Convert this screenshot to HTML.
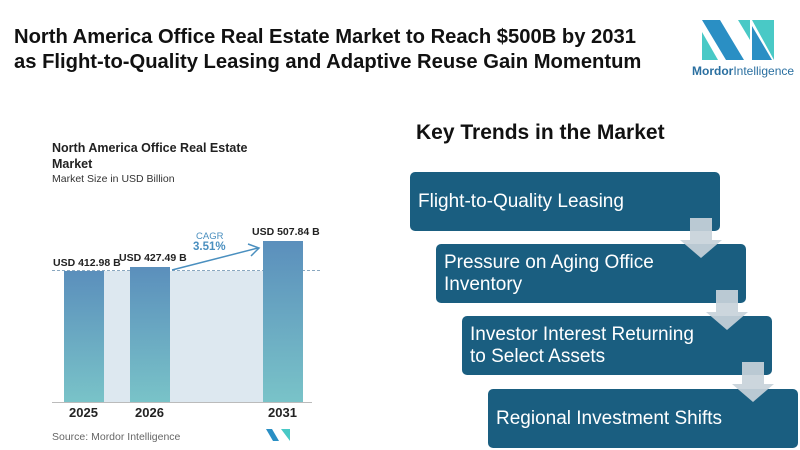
<!DOCTYPE html><html><head><style>
body{margin:0;width:800px;height:450px;background:#fff;font-family:"Liberation Sans",sans-serif;position:relative;overflow:hidden}
.a{position:absolute}
.box{position:absolute;width:310px;height:59px;background:#1a5e80;border-radius:5px;color:#fff;font-size:19px;line-height:22px;box-sizing:border-box;padding-left:8px;display:flex;align-items:center}
.lbl{position:absolute;font-size:10.5px;font-weight:bold;color:#222}
.yr{position:absolute;font-size:13px;font-weight:bold;color:#222;top:405px}
.bar{position:absolute;width:40px;bottom:48px;background:linear-gradient(#5b8fbc,#79c3c8)}
</style></head><body>
<div class="a" style="left:14px;top:25px;font-size:20.2px;font-weight:bold;color:#111;line-height:25px">North America Office Real Estate Market to Reach $500B by 2031<br>as Flight-to-Quality Leasing and Adaptive Reuse Gain Momentum</div>
<svg class="a" style="left:700px;top:18px" width="76" height="44" viewBox="0 0 76 44">
<polygon points="2,2 20,2 44,42 26,42" fill="#2a8fc4"/><polygon points="2,14 2,42 18,42" fill="#49c9c6"/>
<polygon points="38,2 50,2 50,22" fill="#49c9c6"/><polygon points="52,2 74,2 74,42" fill="#49c9c6"/><polygon points="52,8 52,42 72,42" fill="#2a8fc4"/></svg>
<div class="a" style="left:692px;top:64px;font-size:12px;color:#2a6fa0"><b>Mordor</b>Intelligence</div>
<div class="a" style="left:52px;top:140px;font-size:12.5px;font-weight:bold;color:#222;line-height:16px">North America Office Real Estate<br>Market</div>
<div class="a" style="left:52px;top:173px;font-size:10.5px;color:#333">Market Size in USD Billion</div>
<div class="a" style="left:64px;top:271px;width:239px;height:131px;background:#dde8f0"></div>
<div class="a" style="left:52px;top:270px;width:268px;border-top:1px dashed #8aa8c0"></div>
<div class="bar" style="left:64px;top:271px"></div>
<div class="bar" style="left:130px;top:267px"></div>
<div class="bar" style="left:263px;top:241px"></div>
<div class="a" style="left:52px;top:402px;width:260px;border-top:1px solid #bbb"></div>
<div class="lbl" style="left:53px;top:257px">USD 412.98 B</div>
<div class="lbl" style="left:119px;top:252px">USD 427.49 B</div>
<div class="lbl" style="left:252px;top:226px">USD 507.84 B</div>
<div class="a" style="left:196px;top:231px;font-size:9.5px;color:#4a8fbf">CAGR</div>
<div class="a" style="left:193px;top:241px;font-size:11.5px;font-weight:bold;color:#4a8fbf">3.51%</div>
<svg class="a" style="left:170px;top:240px" width="95" height="35"><line x1="2" y1="30" x2="88" y2="8" stroke="#4a8fbf" stroke-width="1.5"/><polyline points="78,4 89,8 81,16" fill="none" stroke="#4a8fbf" stroke-width="1.5"/></svg>
<div class="yr" style="left:69px">2025</div><div class="yr" style="left:135px">2026</div><div class="yr" style="left:268px">2031</div>
<div class="a" style="left:52px;top:431px;font-size:10.5px;color:#666">Source: Mordor Intelligence</div>
<svg class="a" style="left:266px;top:429px" width="24" height="12"><polygon points="0,0 6,0 13,12 7,12" fill="#2a8fc4"/><polygon points="15,0 24,0 24,12" fill="#49c9c6"/></svg>
<div class="a" style="left:416px;top:121px;font-size:21px;font-weight:bold;color:#111">Key Trends in the Market</div>
<div class="box" style="left:410px;top:172px">Flight-to-Quality Leasing</div>
<div class="box" style="left:436px;top:244px">Pressure on Aging Office<br>Inventory</div>
<div class="box" style="left:462px;top:316px">Investor Interest Returning<br>to Select Assets</div>
<div class="box" style="left:488px;top:389px">Regional Investment Shifts</div>
<svg class="a" style="left:0;top:0" width="800" height="450">
<g fill="#c8d2da" fill-opacity="0.92">
<polygon points="690,218 712,218 712,240 722,240 701,258 680,240 690,240"/>
<polygon points="716,290 738,290 738,312 748,312 727,330 706,312 716,312"/>
<polygon points="742,362 764,362 764,384 774,384 753,402 732,384 742,384"/>
</g></svg>
</body></html>
